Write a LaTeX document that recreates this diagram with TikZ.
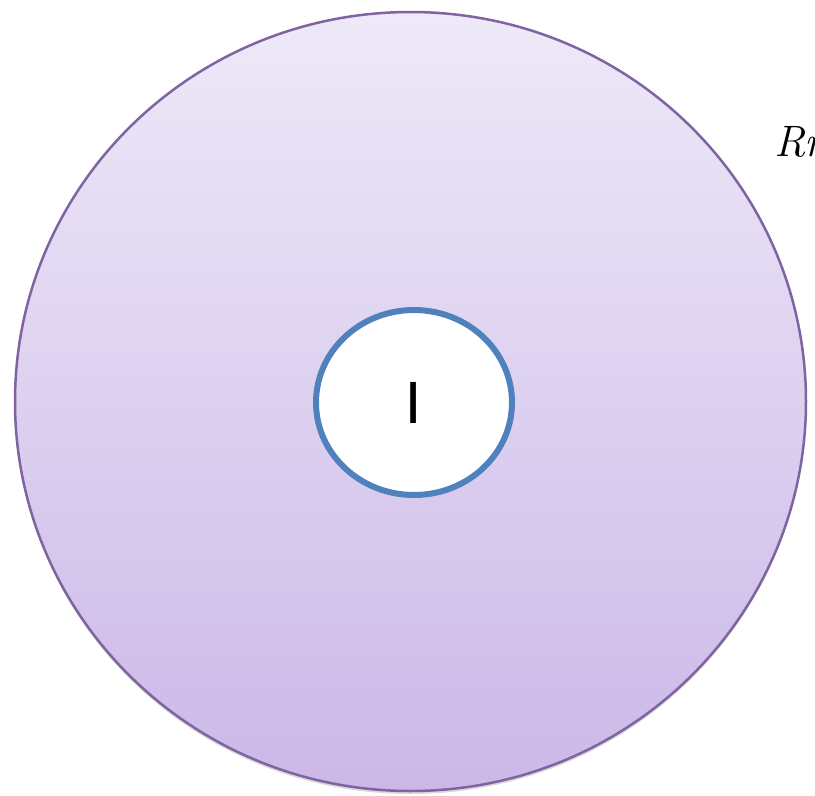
\documentclass[tikz,border=0pt]{standalone}
\usepackage{fontspec}
\newfontfamily\calib{Carlito}
\usetikzlibrary{shapes.geometric,shadows}
\definecolor{outerline}{RGB}{128,100,162}
\definecolor{topfill}{RGB}{238,233,248}
\definecolor{botfill}{RGB}{203,184,232}
\definecolor{innerline}{RGB}{79,129,189}
\tikzset{
  outerdisc/.style={ellipse, inner sep=0pt, minimum width=791pt, minimum height=779pt,
    draw=outerline, line width=2.5pt, top color=topfill, bottom color=botfill,
    drop shadow={opacity=0.3, shadow xshift=0pt, shadow yshift=-3pt}},
  innerdisc/.style={ellipse, inner sep=0pt, minimum width=196pt, minimum height=185pt,
    draw=innerline, line width=6pt, fill=white, font=\calib\fontsize{64}{70}\selectfont},
  rlabel/.style={anchor=base west, inner sep=0pt, font=\fontsize{44}{50}\selectfont\itshape}
}
\begin{document}
\begin{tikzpicture}[x=1pt,y=-1pt]
\useasboundingbox (0,0) rectangle (815,796);
\clip (0,0) rectangle (815,796);
\node[outerdisc] (outer) at (410.5,401.5) {};
\node[innerdisc] (inner) at (414,402.5) {I};
\node[rlabel] (rn) at (774,156) {Rn};
\end{tikzpicture}
\end{document}
